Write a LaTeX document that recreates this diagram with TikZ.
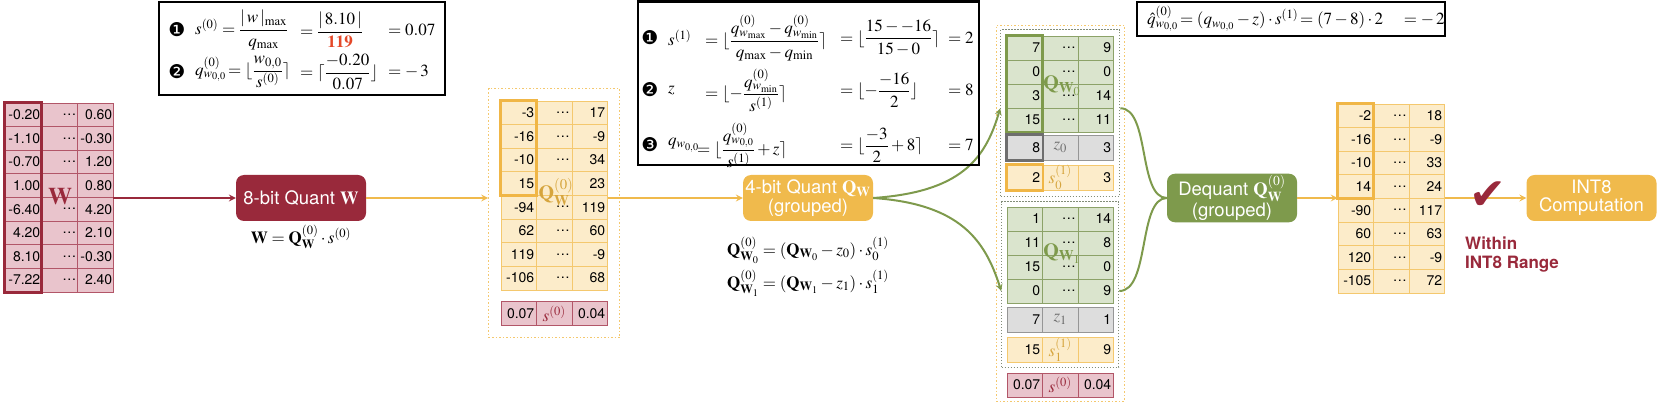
\documentclass[tikz,border=0pt]{standalone}
\usepackage{amsmath}
\usepackage{mathptmx}
\usepackage{fontspec}
\setmainfont{Liberation Serif}
\setsansfont{TeX Gyre Heros}
\newfontfamily\symfont{DejaVu Sans}
\usetikzlibrary{fit,positioning}
\definecolor{qred}{RGB}{153,41,59}
\definecolor{wfill}{RGB}{233,196,204}
\definecolor{wline}{RGB}{178,86,104}
\definecolor{qorange}{RGB}{240,186,76}
\definecolor{qfill}{RGB}{252,236,202}
\definecolor{qline}{RGB}{244,200,110}
\definecolor{qthick}{RGB}{240,182,70}
\definecolor{qgold}{RGB}{214,165,62}
\definecolor{ggreen}{RGB}{126,154,76}
\definecolor{gfill}{RGB}{218,228,205}
\definecolor{gline}{RGB}{140,162,104}
\definecolor{zfill}{RGB}{221,221,221}
\definecolor{zline}{RGB}{150,150,150}
\definecolor{zdark}{RGB}{110,110,110}
\definecolor{hot}{RGB}{228,72,40}
\definecolor{gdot}{RGB}{130,140,120}

\begin{document}
\begin{tikzpicture}[x=1pt,y=-1pt,
	cellb/.style={minimum width=35.5pt, minimum height=23.6pt, inner sep=0pt, line width=0.6pt},
	num/.style={cellb, text width=31pt, align=right, font=\sffamily\fontsize{14}{14}\selectfont},
	wnum/.style={num, minimum width=36pt, text width=34.5pt},
	lab/.style={cellb, font=\fontsize{17}{17}\selectfont},
	wc/.style={fill=wfill, draw=wline},
	qc/.style={fill=qfill, draw=qline},
	gc/.style={fill=gfill, draw=gline, minimum height=24pt},
	zc/.style={fill=zfill, draw=zline, minimum height=25pt},
	oc/.style={fill=qfill, draw=qline, minimum height=25pt},
	opbox/.style={rounded corners=8pt, minimum width=130pt, minimum height=46pt, inner sep=2pt, text=white, align=center, font=\sffamily\fontsize{18.5}{18.5}\selectfont},
	eqbox/.style={draw, line width=2.2pt},
	eq/.style={font=\fontsize{17}{20}\selectfont, inner sep=0pt},
	bul/.style={font=\symfont\fontsize{19}{19}\selectfont, inner sep=0pt},
	frameq/.style={draw=qline, line width=1.2pt, dash pattern=on 1.5pt off 2pt},
	frameg/.style={draw=gdot, line width=1pt, dash pattern=on 1.2pt off 1.8pt},
	flow/.style={line width=2pt, -stealth},
	gcurve/.style={ggreen, line width=2pt}]

				\useasboundingbox (0,0) rectangle (1661,403);

				\foreach \a/\c [count=\i] in {-0.20/0.60,-1.10/-0.30,-0.70/1.20,1.00/0.80,-6.40/4.20,4.20/2.10,8.10/-0.30,-7.22/2.40}{
					\node[wnum, wc] (w-\i-1) at (23, 91.2+23.6*\i) {\a};
					\node[wnum, wc] (w-\i-2) at (59, 91.2+23.6*\i) {\ifnum\i=4 \else\dots\fi};
					\node[wnum, wc] (w-\i-3) at (95, 91.2+23.6*\i) {\c};
				}
				\draw[qred, line width=3pt] (w-1-1.north west) rectangle (w-8-1.south east);
				\node[text=qred, font=\fontsize{24}{24}\selectfont] (wlab) at (60,197) {$\mathbf{W}$};

				\node[opbox, fill=qred] (q8) at (301,198) {8-bit Quant $\mathbf{W}$};
				\node[eq] (e8) at (301,237) {$\mathbf{W} = \mathbf{Q}^{(0)}_{\mathbf{W}} \cdot s^{(0)}$};
				\draw[flow, qred] (q8.west -| w-4-3.east) -> (q8.west);

				\foreach \a/\c [count=\i] in {-3/17,-16/-9,-10/34,15/23,-94/119,62/60,119/-9,-106/68}{
					\node[num, qc] (q-\i-1) at (518.75, 89.2+23.6*\i) {\a};
					\node[num, qc] (q-\i-2) at (554.25, 89.2+23.6*\i) {\ifnum\i=4 \else\dots\fi};
					\node[num, qc] (q-\i-3) at (589.75, 89.2+23.6*\i) {\c};
				}
				\draw[qthick, line width=3pt] (q-1-1.north west) rectangle (q-4-1.south east);
				\node[text=qgold, font=\fontsize{20}{20}\selectfont] (qlab) at (556,192) {$\mathbf{Q}^{(0)}_{\mathbf{W}}$};
				\node[num, wc] (s-1) at (518.75,313.5) {0.07};
				\node[lab, wc, text=qred] (s-2) at (554.25,313.5) {$s^{(0)}$};
				\node[num, wc] (s-3) at (589.75,313.5) {0.04};
				\node[frameq, fit=(q-1-1)(s-3), inner sep=12pt] (qf) {};
				\draw[flow, qorange] (q8.east) -> (q8.east -| qf.west);

				\node[opbox, fill=qorange] (q4) at (808,198) {4-bit Quant $\mathbf{Q}_{\mathbf{W}}$\\(grouped)};
				\draw[flow, qorange] (q4.west -| q-4-3.east) -> (q4.west);
				\node[eq] (e4a) at (808,250) {$\mathbf{Q}^{(0)}_{\mathbf{W}_0} = (\mathbf{Q}_{\mathbf{W}_0} - z_0) \cdot s^{(1)}_0$};
				\node[eq] (e4b) at (808,283) {$\mathbf{Q}^{(0)}_{\mathbf{W}_1} = (\mathbf{Q}_{\mathbf{W}_1} - z_1) \cdot s^{(1)}_1$};

				\foreach \a/\c [count=\i] in {7/9,0/0,3/14,15/11}{
					\node[num, gc] (a-\i-1) at (1024.75, 24+24*\i) {\a};
					\node[num, gc] (a-\i-2) at (1060.25, 24+24*\i) {\dots};
					\node[num, gc] (a-\i-3) at (1095.75, 24+24*\i) {\c};
				}
				\draw[ggreen, line width=3pt] (a-1-1.north west) rectangle (a-4-1.south east);
				\node[text=ggreen, font=\fontsize{20}{20}\selectfont] (alab) at (1062,86) {$\mathbf{Q}_{\mathbf{W}_0}$};
				\node[num, zc] (z0-1) at (1024.75,147.5) {8};
				\node[lab, zc, text=zdark] (z0-2) at (1060.25,147.5) {$z_0$};
				\node[num, zc] (z0-3) at (1095.75,147.5) {3};
				\draw[zdark, line width=2.5pt] (z0-1.north west) rectangle (z0-1.south east);
				\node[num, oc] (o0-1) at (1024.75,177.5) {2};
				\node[lab, oc, text=qgold] (o0-2) at (1060.25,177.5) {$s^{(1)}_0$};
				\node[num, oc] (o0-3) at (1095.75,177.5) {3};
				\draw[qthick, line width=2.5pt] (o0-1.north west) rectangle (o0-1.south east);
				\node[frameg, fit=(a-1-1)(o0-3), inner sep=6pt] (gf0) {};

				\foreach \a/\c [count=\i] in {1/14,11/8,15/0,0/9}{
					\node[num, gc] (b-\i-1) at (1024.75, 195+24*\i) {\a};
					\node[num, gc] (b-\i-2) at (1060.25, 195+24*\i) {\dots};
					\node[num, gc] (b-\i-3) at (1095.75, 195+24*\i) {\c};
				}
				\node[text=ggreen, font=\fontsize{20}{20}\selectfont] (blab) at (1062,254) {$\mathbf{Q}_{\mathbf{W}_1}$};
				\node[num, zc] (z1-1) at (1024.75,319.5) {7};
				\node[lab, zc, text=zdark] (z1-2) at (1060.25,319.5) {$z_1$};
				\node[num, zc] (z1-3) at (1095.75,319.5) {1};
				\node[num, oc] (o1-1) at (1024.75,349.5) {15};
				\node[lab, oc, text=qgold] (o1-2) at (1060.25,349.5) {$s^{(1)}_1$};
				\node[num, oc] (o1-3) at (1095.75,349.5) {9};
				\node[frameg, fit=(b-1-1)(o1-3), inner sep=5pt] (gf1) {};

				\node[num, wc] (t-1) at (1024.75,385) {0.07};
				\node[lab, wc, text=qred] (t-2) at (1060.25,385) {$s^{(0)}$};
				\node[num, wc] (t-3) at (1095.75,385) {0.04};
				\node[frameq, fit=(gf0)(gf1)(t-3), inner sep=4pt] (of) {};

				\draw[gcurve, -stealth] (q4.east) .. controls (960,192) and (985,160) .. (gf0.west |- a-3-1.south);
				\draw[gcurve, -stealth] (q4.east) .. controls (960,204) and (985,240) .. (gf1.west |- b-4-1);

				\node[opbox, fill=ggreen] (dq) at (1232,198) {Dequant $\mathbf{Q}^{(0)}_{\mathbf{W}}$\\(grouped)};
				\draw[gcurve] (gf0.east |- a-3-3.south) .. controls (1150,108) and (1138,198) .. (dq.west);
				\draw[gcurve] (gf1.east |- b-4-3) .. controls (1150,291) and (1138,198) .. (dq.west);

				\foreach \a/\c [count=\i] in {-2/18,-16/-9,-10/33,14/24,-90/117,60/63,120/-9,-105/72}{
					\node[num, qc] (r-\i-1) at (1355.75, 92.2+23.6*\i) {\a};
					\node[num, qc] (r-\i-2) at (1391.25, 92.2+23.6*\i) {\dots};
					\node[num, qc] (r-\i-3) at (1426.75, 92.2+23.6*\i) {\c};
				}
				\draw[qthick, line width=3pt] (r-1-1.north west) rectangle (r-4-1.south east);
				\draw[flow, qorange] (dq.east) -> (dq.east -| r-4-1.west);

				\node[opbox, fill=qorange] (i8) at (1591.5,198) {INT8\\Computation};
				\draw[flow, qorange] (i8.west -| r-4-3.east) -> (i8.west);
				\node[text=qred, font=\symfont\fontsize{44}{44}\selectfont, inner sep=0pt] (ck) at (1488,196) {✔};
				\node[anchor=north west, text=qred, align=left, inner sep=0pt, font=\sffamily\bfseries\fontsize{17}{19}\selectfont] (rng) at (1465,237) {Within\\INT8 Range};

				\draw[eqbox] (159,2) rectangle (445,95);
				\node[bul] (b1) at (177,30) {❶};
				\node[bul] (b2) at (177,72) {❷};
				\node[eq, anchor=west] (e1a) at (195,30) {$s^{(0)} = \dfrac{|\,w\,|_{\max}}{q_{\max}}$};
				\node[eq, anchor=west] (e1b) at (300,30) {$= \dfrac{|\,8.10\,|}{\textcolor{hot}{\mathbf{119}}}$};
				\node[eq, anchor=west] (e1c) at (388,30) {$= 0.07$};
				\node[eq, anchor=west] (e2a) at (195,72) {$q^{(0)}_{w_{0,0}}\!= \lfloor \dfrac{w_{0,0}}{s^{(0)}} \rceil$};
				\node[eq, anchor=west] (e2b) at (300,72) {$= \lceil \dfrac{-0.20}{0.07} \rfloor$};
				\node[eq, anchor=west] (e2c) at (388,72) {$= -\,3$};

				\draw[eqbox] (638,1.5) rectangle (979,165);
				\node[bul] (c1) at (650,38) {❶};
				\node[bul] (c2) at (650,90) {❷};
				\node[bul] (c3) at (650,145) {❸};
				\node[eq, anchor=west] (m1a) at (668,38) {$s^{(1)}$};
				\node[eq, anchor=west] (m1b) at (705,38) {$= \lfloor \dfrac{q^{(0)}_{w_{\max}} - q^{(0)}_{w_{\min}}}{q_{\max} - q_{\min}} \rceil$};
				\node[eq, anchor=west] (m1c) at (840,38) {$= \lfloor \dfrac{15 - -16}{15 - 0} \rceil$};
				\node[eq, anchor=west] (m1d) at (948,38) {$= 2$};
				\node[eq, anchor=west] (m2a) at (668,90) {$z$};
				\node[eq, anchor=west] (m2b) at (705,90) {$= \lfloor -\dfrac{q^{(0)}_{w_{\min}}}{s^{(1)}} \rceil$};
				\node[eq, anchor=west] (m2c) at (840,90) {$= \lfloor -\dfrac{-16}{2} \rfloor$};
				\node[eq, anchor=west] (m2d) at (948,90) {$= 8$};
				\node[eq, anchor=west] (m3a) at (668,145) {$q_{w_{0,0}}$};
				\node[eq, anchor=west] (m3b) at (697,145) {$= \lfloor \dfrac{q^{(0)}_{w_{0,0}}}{s^{(1)}} + z \rceil$};
				\node[eq, anchor=west] (m3c) at (840,145) {$= \lfloor \dfrac{-3}{2} + 8 \rceil$};
				\node[eq, anchor=west] (m3d) at (948,145) {$= 7$};

				\draw[eqbox] (1137,2) rectangle (1445,36);
				\node[eq, anchor=west] (e5) at (1147,19) {$\hat{q}^{(0)}_{w_{0,0}}\!= (q_{w_{0,0}} - z) \cdot s^{(1)}\!= (7 - 8) \cdot 2 \quad = -\,2$};
			\end{tikzpicture}
\end{document}
